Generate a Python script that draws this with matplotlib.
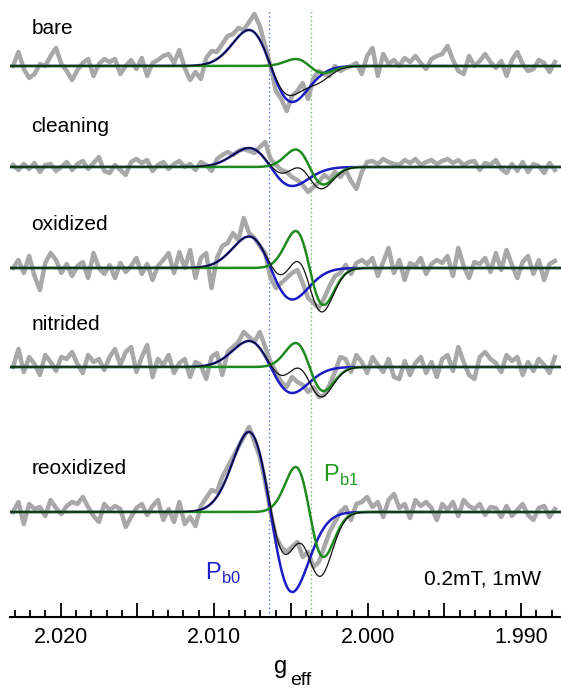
import numpy as np
import matplotlib
matplotlib.use("Agg")
import matplotlib.pyplot as plt
from matplotlib.ticker import MultipleLocator, FuncFormatter

plt.rcParams["font.family"] = ["Liberation Sans", "DejaVu Sans"]

# sample names and their baseline height (px above the g axis)
names = ["bare", "cleaning", "oxidized", "nitrided", "reoxidized"]
baselines = [551, 450, 349, 250, 105]
label_y = [588, 491, 392, 292, 148]

# measured spectra (offsets from baseline), evenly spaced in g
G_START, G_END = 2.0231, 1.9878
bare = [0, 14, -3, -12, -8, 2, 0, 10, 18, 2,
        -5, -14, -4, 3, 7, -10, 2, 7, 4, 7,
        -8, 0, 6, -3, 8, -10, 3, 6, 10, 12,
        3, 16, -2, -14, -6, -13, 8, 15, 14, 22,
        30, 32, 38, 36, 44, 52, 40, 20, 0, -25,
        -33, -45, -30, -25, -17, -33, -12, -5, -8, -10,
        0, -5, -2, 0, 3, -8, 10, 18, -10, 12,
        2, 6, 0, 8, 4, 10, 3, -3, 7, 10,
        12, 20, 6, -5, -8, 10, 0, 5, 12, 4,
        -2, 5, -10, 6, 14, 2, -5, -3, 6, 3,
        -6, 4]
cleaning = [2, -3, 3, -2, 4, -5, 2, 3, -4, 0,
            5, -3, 3, 6, -2, 4, 10, -4, -6, 2,
            -3, -8, 5, 8, 4, 7, -4, 2, 5, -2,
            3, 6, 0, 3, -3, 5, 2, -4, 8, 12,
            15, 12, 16, 18, 16, 14, 20, 25, 8, 2,
            -3, -5, -10, -13, -18, -25, -20, -15, -8, -12,
            -5, -10, -3, -14, -22, -5, 5, 6, 3, 8,
            5, 3, 2, 7, 4, 8, 2, 5, 7, 3,
            6, 8, 4, 7, 2, 5, 6, -3, 4, 2,
            7, -2, -6, 3, -4, 5, -5, 3, 1, -6,
            4, -3]
oxidized = [0, 8, -5, 12, -8, -22, 5, 15, 8, -5,
            4, -8, 2, 6, -10, 15, 0, -6, 3, -10,
            5, -4, 2, 10, -6, 4, -12, 2, 8, 15,
            -5, 16, 0, 18, -10, 10, 15, -20, 10, 22,
            25, 35, 28, 50, 35, 30, 22, 15, -10, -20,
            -15, -10, -5, -2, -15, -30, -35, -40, -30, -18,
            -8, -5, 3, -6, 5, 8, 4, 10, -8, 6,
            20, -5, 8, -12, 5, 2, 10, -6, 4, 8,
            5, 12, -8, 20, 2, -10, 6, 4, 10, -4,
            15, -2, 18, 3, -10, 6, 12, -6, 8, -12,
            4, 7]
nitrided = [0, 18, -5, 10, 3, -8, 12, 5, -4, 10,
            8, 15, 3, -6, 12, 5, 8, -3, 10, 18,
            2, 15, 20, -5, 10, 22, -10, 8, 2, 12,
            -6, 4, 8, -10, 5, 2, -12, 10, 14, -8,
            15, 20, 25, 35, 30, 25, 35, 20, 5, -5,
            -15, -20, -10, -15, -18, -25, -20, -30, -28, -18,
            -5, 10, 8, -5, 12, 5, -6, 10, 2, -5,
            8, -10, -12, 6, -8, 4, 10, -6, 5, -10,
            8, 12, -4, 20, 5, -8, -12, 10, 15, 8,
            4, -5, 12, 6, 10, -8, 5, -4, 8, 2,
            -6, 10]
reoxidized = [0, 10, -12, 8, 3, 5, -4, 12, 4, -2,
              6, 10, 8, 15, 5, -4, -10, 8, 2, 6,
              3, -15, -5, 4, 8, -3, 6, 12, -8, 3,
              -10, 10, -12, -5, -14, 6, 14, 22, 20, 35,
              45, 55, 65, 75, 85, 70, 55, 30, 0, -25,
              -35, -40, -35, -30, -45, -40, -55, -50, -35, -20,
              -10, 0, 5, -8, 8, 10, 15, 5, 10, -5,
              12, 18, 4, 8, -6, 12, 6, 10, 4, -8,
              8, 2, 10, -4, 12, 6, 3, 8, -3, 5,
              4, -5, 6, -4, 2, 8, -3, -8, 4, 6,
              -5, 3]
spectra = [bare, cleaning, oxidized, nitrided, reoxidized]

# fitted components: first-derivative Gaussians (centre g, width in g, peak height)
pb0_g, pb0_w = 2.00632, 0.001414
pb1_g, pb1_w = 2.00378, 0.000912
pb0_h = [36, 19, 31.5, 26, 80]
pb1_h = [7, 17.5, 37, 24, 45]

# positions of the dotted markers
pb0_line, pb1_line = 2.00643, 2.00371


def dgauss(g, c, w, h):
    d = (g - c) / w
    return h * d * np.exp(0.5 - d ** 2 / 2)


fig = plt.figure(figsize=(5.61, 6.90), dpi=100)
ax = fig.add_axes([10 / 561, 1 - 617 / 690, 551 / 561, 617 / 690])

gfit = np.linspace(2.0240, 1.9860, 1200)
for i, spec in enumerate(spectra):
    base = baselines[i]
    gx = np.linspace(G_START, G_END, len(spec))
    ax.plot(gx, base + np.array(spec), color="#a8a8a8", lw=3.2, zorder=1,
            solid_joinstyle="round")
    y0 = dgauss(gfit, pb0_g, pb0_w, pb0_h[i])
    y1 = dgauss(gfit, pb1_g, pb1_w, pb1_h[i])
    ax.plot(gfit, base + y0, color="#1c1cc4", lw=1.8, zorder=2)
    ax.plot(gfit, base + y1, color="#1f8a1f", lw=1.8, zorder=3)
    ax.plot(gfit, base + y0 + y1, color="#111111", lw=0.9, zorder=4)
    ax.text(2.0219, label_y[i], names[i], fontsize=15, va="center", ha="left")

ax.axvline(pb0_line, ymin=0, ymax=607 / 617, color="#5577dd", lw=1.0,
           ls=(0, (1, 2)), zorder=0)
ax.axvline(pb1_line, ymin=0, ymax=607 / 617, color="#66bb66", lw=1.0,
           ls=(0, (1, 2)), zorder=0)

ax.text(2.0029, 142, r"P$_{\mathregular{b1}}$", color="#1f9a1f", fontsize=17,
        ha="left", va="center")
ax.text(2.0106, 44, r"P$_{\mathregular{b0}}$", color="#2020c8", fontsize=17,
        ha="left", va="center")
ax.text(1.9887, 38, "0.2mT, 1mW", fontsize=15, ha="right", va="center")

ax.set_xlim(2.0233, 1.9874)
ax.set_ylim(0, 617)
for s in ["top", "left", "right"]:
    ax.spines[s].set_visible(False)
ax.spines["bottom"].set_linewidth(1.5)
ax.set_yticks([])
ax.xaxis.set_major_locator(MultipleLocator(0.005))
ax.xaxis.set_minor_locator(MultipleLocator(0.001))
ax.xaxis.set_major_formatter(FuncFormatter(
    lambda v, p: "%.3f" % v if round(v * 1000) % 10 == 0 else ""))
ax.tick_params(axis="x", which="major", direction="in", length=10, width=1.3,
               labelsize=15.5, pad=7)
ax.tick_params(axis="x", which="minor", direction="in", length=5, width=1.3)

fig.text(274 / 561, 1 - 673 / 690, "g", fontsize=17, ha="left", va="baseline")
fig.text(290 / 561, 1 - 685 / 690, "eff", fontsize=14, ha="left", va="baseline")

fig.savefig("out.png", dpi=100)
